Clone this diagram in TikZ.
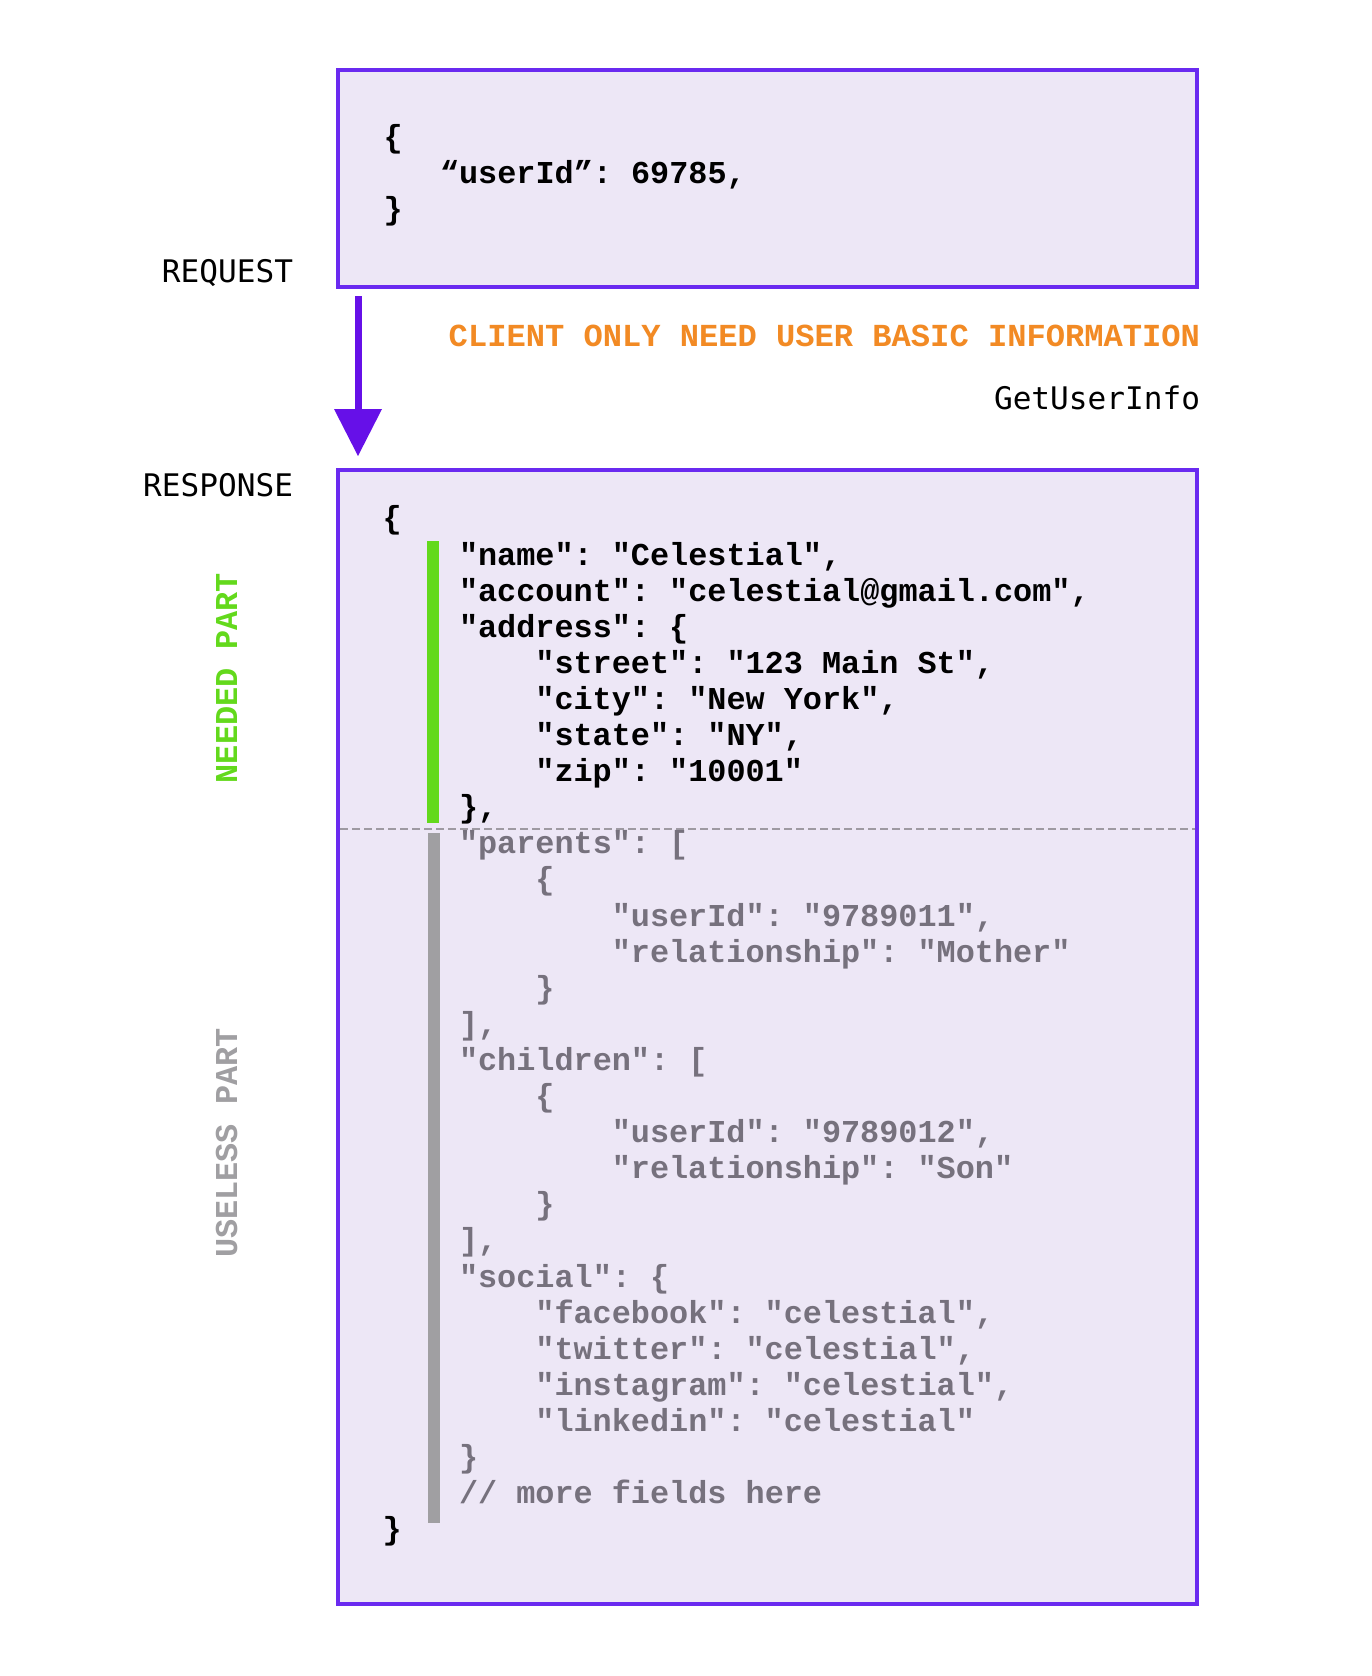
\documentclass[tikz,border=0pt]{standalone}
\usepackage{fontspec}
\setmonofont{Liberation Mono}
\newfontfamily\labelfont{DejaVu Sans Mono}
\usetikzlibrary{arrows.meta}
\definecolor{boxfill}{HTML}{EDE7F6}
\definecolor{boxline}{HTML}{6A2AF0}
\definecolor{arrowc}{HTML}{6610E8}
\definecolor{codegray}{HTML}{76717D}
\definecolor{bargray}{HTML}{A09FA2}
\definecolor{needgreen}{HTML}{63D91C}
\definecolor{titleorange}{HTML}{F28A24}
\definecolor{sepgray}{HTML}{9E9AA2}
\begin{document}
\begin{tikzpicture}[x=1pt,y=-1pt,
  panel/.style={rectangle, draw=boxline, fill=boxfill, line width=4.5pt, inner sep=0pt, outer sep=0pt},
  code/.style={anchor=base west, inner sep=0pt, outer sep=0pt, font=\ttfamily\bfseries\fontsize{31.85}{36}\selectfont, text=black},
  usel/.style={code, text=codegray},
  lbl/.style={anchor=base east, inner sep=0pt, outer sep=0pt, font=\labelfont\fontsize{31.1}{36}\selectfont, text=black},
  note/.style={anchor=base east, inner sep=0pt, outer sep=0pt, font=\ttfamily\bfseries\fontsize{32.1}{36}\selectfont, text=titleorange},
  vlabel/.style={anchor=base, rotate=90, inner sep=0pt, outer sep=0pt, font=\ttfamily\bfseries\fontsize{31.85}{36}\selectfont},
  flow/.style={color=arrowc, line width=7pt, -{Triangle[width=48pt,length=47pt,line width=0pt]}},
  sepline/.style={draw=sepgray, line width=1.5pt, dash pattern=on 8pt off 4pt}
]
\useasboundingbox (0,0) rectangle (1372,1676);
\fill[white] (0,0) rectangle (1372,1676);

% panels
\node[panel, minimum width=859pt, minimum height=217pt] (req) at (767.5,178.5) {};
\node[panel, minimum width=859pt, minimum height=1134pt] (resp) at (767.5,1037) {};

% request content
\node[code] (r1) at (383.5,147) {\{};
\node[code] (r2) at (440,183) {“userId”: 69785,};
\node[code] (r3) at (383.5,219) {\}};

% labels
\node[lbl] (reqlbl) at (293,282) {REQUEST};
\node[lbl] (resplbl) at (293,496) {RESPONSE};
\node[note] (need) at (1200,346) {CLIENT ONLY NEED USER BASIC INFORMATION};
\node[lbl] (api) at (1200,409) {GetUserInfo};

% arrow
\draw[flow, shorten <=9pt, shorten >=14pt] ([xshift=20pt]req.south west) -- ([xshift=20pt]resp.north west);

% side bars and separator
\fill[needgreen] (427,541) rectangle (439,823);
\fill[bargray] (428,833) rectangle (440,1523);
\coordinate (sepL) at (340,829);
\coordinate (sepR) at (1195,829);
\draw[sepline] (sepL) -- (sepR);

% vertical labels
\node[vlabel, text=needgreen] (needed) at (237,678) {NEEDED PART};
\node[vlabel, text=bargray] (useless) at (237,1143) {USELESS PART};

% response content
\node[code] (c0) at (382.5,528.9) {\{};
\node[code] (c1) at (459,565) {"name": "Celestial",};
\node[code] (c2) at (459,601.1) {"account": "celestial@gmail.com",};
\node[code] (c3) at (459,637.2) {"address": \{};
\node[code] (c4) at (535.4,673.3) {"street": "123 Main St",};
\node[code] (c5) at (535.4,709.4) {"city": "New York",};
\node[code] (c6) at (535.4,745.5) {"state": "NY",};
\node[code] (c7) at (535.4,781.6) {"zip": "10001"};
\node[code] (c8) at (459,817.7) {\},};
\node[usel] (c9) at (459,853.8) {"parents": [};
\node[usel] (c10) at (535.4,889.9) {\{};
\node[usel] (c11) at (611.8,926) {"userId": "9789011",};
\node[usel] (c12) at (611.8,962.1) {"relationship": "Mother"};
\node[usel] (c13) at (535.4,998.2) {\}};
\node[usel] (c14) at (459,1034.3) {],};
\node[usel] (c15) at (459,1070.4) {"children": [};
\node[usel] (c16) at (535.4,1106.5) {\{};
\node[usel] (c17) at (611.8,1142.6) {"userId": "9789012",};
\node[usel] (c18) at (611.8,1178.7) {"relationship": "Son"};
\node[usel] (c19) at (535.4,1214.8) {\}};
\node[usel] (c20) at (459,1250.9) {],};
\node[usel] (c21) at (459,1287) {"social": \{};
\node[usel] (c22) at (535.4,1323.1) {"facebook": "celestial",};
\node[usel] (c23) at (535.4,1359.2) {"twitter": "celestial",};
\node[usel] (c24) at (535.4,1395.3) {"instagram": "celestial",};
\node[usel] (c25) at (535.4,1431.4) {"linkedin": "celestial"};
\node[usel] (c26) at (459,1467.5) {\}};
\node[usel] (c27) at (459,1503.6) {// more fields here};
\node[code] (c28) at (382.5,1539.7) {\}};
\end{tikzpicture}
\end{document}
